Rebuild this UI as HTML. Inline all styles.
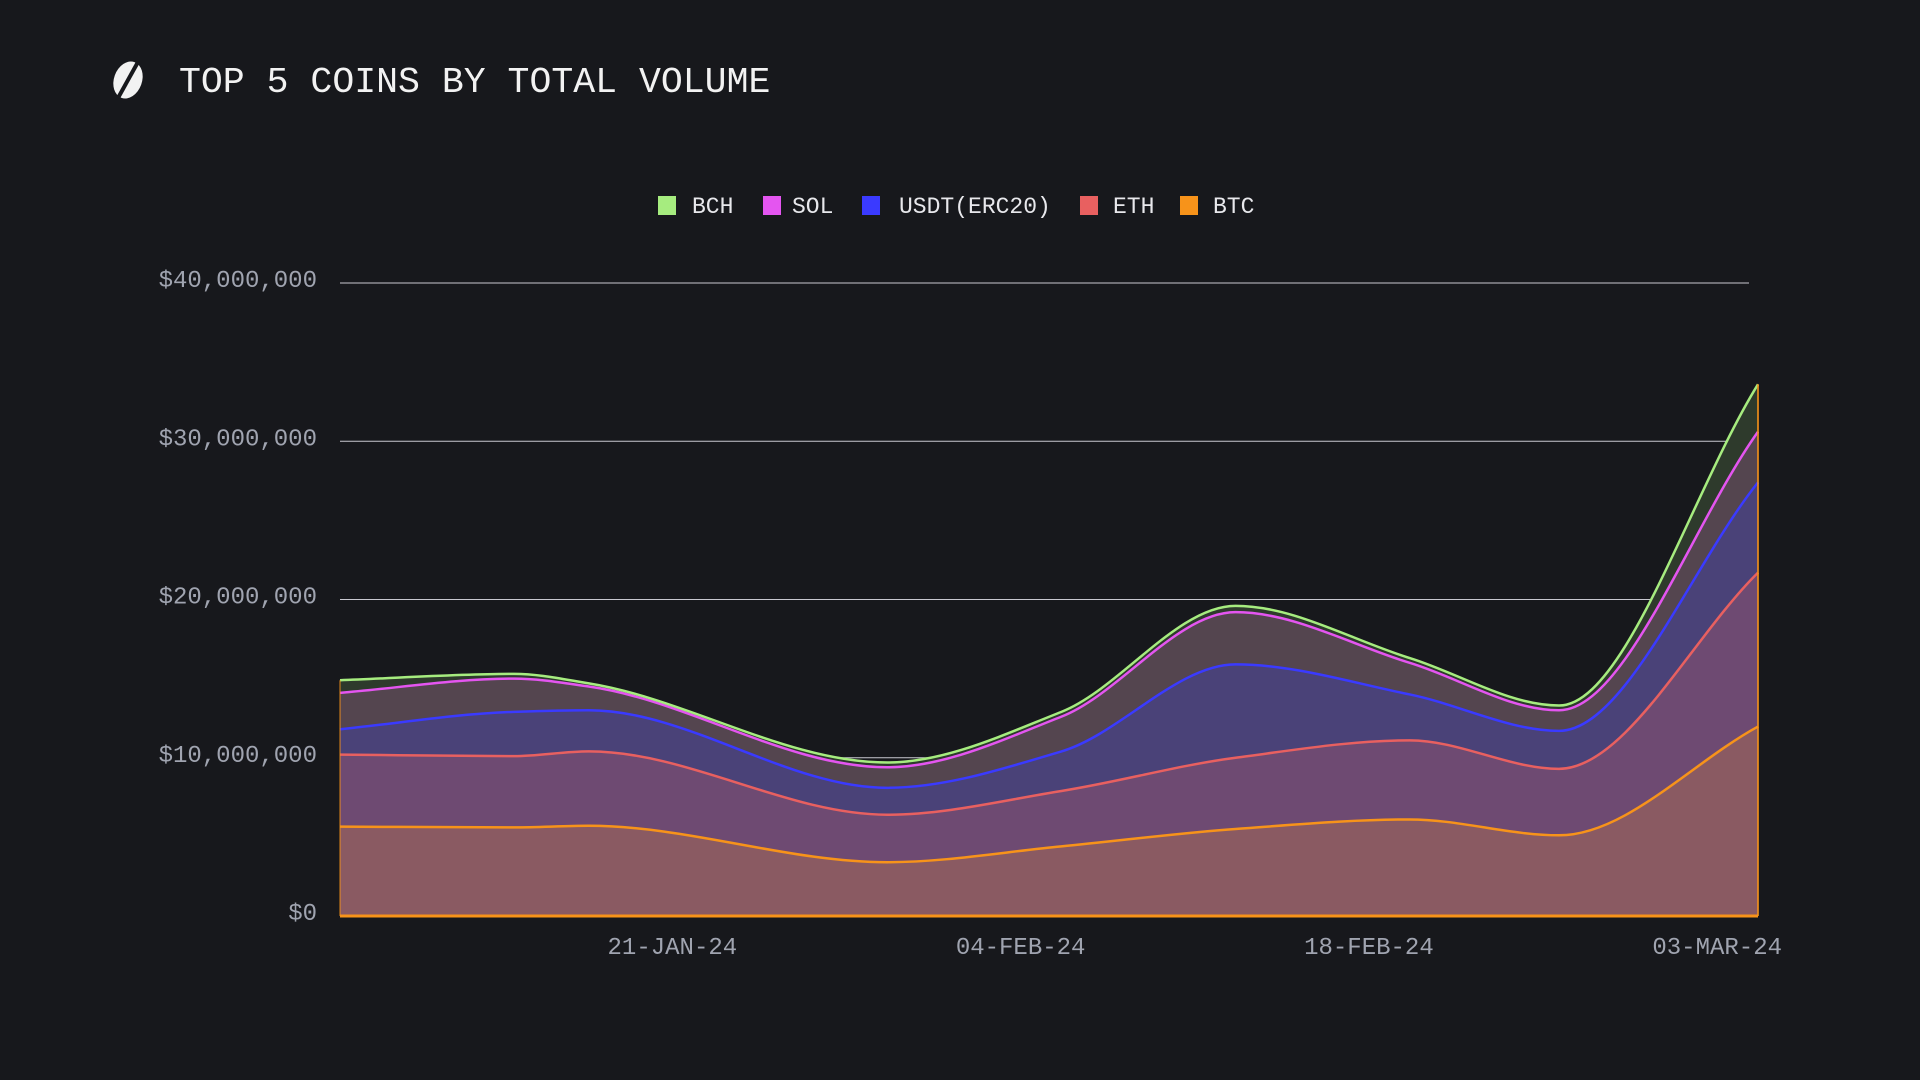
<!DOCTYPE html>
<html><head><meta charset="utf-8"><style>
html,body{margin:0;padding:0;background:#17181c;width:1920px;height:1080px;overflow:hidden}
svg{display:block}
text{font-family:"Liberation Mono",monospace}
</style></head><body>
<svg id="chart" width="1920" height="1080">
<rect width="1920" height="1080" fill="#17181c"/>
<g>
<ellipse cx="128" cy="80" rx="14" ry="19" transform="rotate(20 128 80)" fill="#f2f2f2"/>
<line x1="138" y1="62" x2="118" y2="98" stroke="#17181c" stroke-width="4"/>
</g>
<text x="179" y="92" font-size="36.5" fill="#f2f2f2">TOP 5 COINS BY TOTAL VOLUME</text>
<g id="legend"></g>
<g id="grid"></g>
<g id="areas"></g>
<g id="axes"></g>
</svg>
<script>
const days = [0, 7, 10, 22, 29, 36, 43, 49, 57];
const btc  = [5.65, 5.6, 5.7, 3.4, 4.4, 5.5, 6.1, 5.1, 11.97];
const eth  = [4.55, 4.5, 4.7, 3.0, 3.5, 4.5, 5.0, 4.2, 9.73];
const usdt = [1.6, 2.8, 2.6, 1.7, 2.5, 5.9, 2.9, 2.4, 5.7];
const sol  = [2.3, 2.1, 1.5, 1.3, 2.2, 3.3, 2.0, 1.3, 3.2];
const bch  = [0.8, 0.3, 0.2, 0.3, 0.3, 0.4, 0.3, 0.3, 3.0];
const yTicks = [0, 10, 20, 30, 40];
const yTickLabels = ["$0", "$10,000,000", "$20,000,000", "$30,000,000", "$40,000,000"];
const xTickDays = [13.4, 27.4, 41.4, 55.4];
const xTickLabels = ["21-JAN-24", "04-FEB-24", "18-FEB-24", "03-MAR-24"];
const seriesNames = ["BCH", "SOL", "USDT(ERC20)", "ETH", "BTC"];

const X0 = 340, X1 = 1758, Y0 = 916, PX_PER_M = 15.825;
const xs = d => X0 + (d - days[0]) / (days[days.length - 1] - days[0]) * (X1 - X0);
const ys = v => Y0 - v * PX_PER_M;
const NS = "http://www.w3.org/2000/svg";
function mk(tag, attrs, parent) {
  const e = document.createElementNS(NS, tag);
  for (const k in attrs) e.setAttribute(k, attrs[k]);
  parent.appendChild(e); return e;
}
function curve(pts) {
  const n = pts.length, dx = [], m = [], t = [];
  for (let i = 0; i < n - 1; i++) { dx[i] = pts[i+1][0] - pts[i][0]; m[i] = (pts[i+1][1] - pts[i][1]) / dx[i]; }
  t[0] = m[0]; t[n-1] = m[n-2];
  for (let i = 1; i < n - 1; i++) {
    if (m[i-1] * m[i] <= 0) t[i] = 0;
    else t[i] = 3 * (dx[i-1] + dx[i]) / ((2*dx[i] + dx[i-1]) / m[i-1] + (dx[i] + 2*dx[i-1]) / m[i]);
  }
  let d = "";
  for (let i = 0; i < n - 1; i++) {
    const h = dx[i] / 3;
    d += " C" + (pts[i][0] + h) + "," + (pts[i][1] + t[i]*h) + " " + (pts[i+1][0] - h) + "," + (pts[i+1][1] - t[i+1]*h) + " " + pts[i+1][0] + "," + pts[i+1][1];
  }
  return d;
}
const grid = document.getElementById("grid"), axes = document.getElementById("axes"), areas = document.getElementById("areas"), legend = document.getElementById("legend");
yTicks.forEach((v, i) => {
  if (v > 0) {
    const l = mk("line", {x1: X0, x2: 1749, y1: ys(v), y2: ys(v), stroke: "#c8c8d0", "stroke-width": 1}, grid);
    
    
  }
  const t = mk("text", {x: 317, y: ys(v) + 4, "text-anchor": "end", "font-size": 24, fill: "#a0a4b0"}, axes);
  t.textContent = yTickLabels[i];
  
  
});
xTickDays.forEach((d, i) => {
  const t = mk("text", {x: xs(d) - 1, y: 954, "text-anchor": "middle", "font-size": 24, fill: "#a0a4b0"}, axes);
  t.textContent = xTickLabels[i];
  
  
});
const layers = [btc, eth, usdt, sol, bch];
const fills = ["#8a5a62", "#6e4a72", "#4a4278", "#54454f", "#2e3a2c"];
const strokes = ["#f7931a", "#e86060", "#3a3aff", "#e455f0", "#a6ec7f"];
const names = ["btc", "eth", "usdt", "sol", "bch"];
const cum = [];
let prev = days.map(() => 0);
layers.forEach((arr, k) => {
  const top = arr.map((v, i) => prev[i] + v);
  cum.push({bottom: prev, top});
  prev = top;
});
cum.forEach((c, k) => {
  const topPts = days.map((d, i) => [xs(d), ys(c.top[i])]);
  const botPts = days.map((d, i) => [xs(d), ys(c.bottom[i])]).reverse();
  const dA = "M" + topPts[0].join(",") + curve(topPts) + " L" + botPts[0].join(",") + curve(botPts) + " Z";
  const a = mk("path", {d: dA, fill: fills[k]}, areas);
  
  
});
cum.forEach((c, k) => {
  const topPts = days.map((d, i) => [xs(d), ys(c.top[i])]);
  const l = mk("path", {d: "M" + topPts[0].join(",") + curve(topPts), fill: "none", stroke: strokes[k], "stroke-width": 2.5}, areas);
  
  
});
const base = mk("line", {x1: X0, x2: X1, y1: Y0, y2: Y0, stroke: "#f7931a", "stroke-width": 3}, areas);


const rEdge = mk("line", {x1: X1, x2: X1, y1: Y0, y2: ys(cum[4].top[days.length-1]), stroke: "#f7931a", "stroke-width": 2, opacity: 0.8}, areas);


const lEdge = mk("line", {x1: X0, x2: X0, y1: Y0, y2: ys(cum[4].top[0]), stroke: "#f7931a", "stroke-width": 1.5, opacity: 0.6}, areas);


const legX = [[658, 692], [763, 792], [862, 899], [1080, 1113], [1180, 1213]];
const legColors = ["#a6ec7f", "#e455f0", "#3a3aff", "#e86060", "#f7931a"];
seriesNames.forEach((n, i) => {
  const g = mk("g", {}, legend);
  
  
  mk("rect", {x: legX[i][0], y: 196, width: 18, height: 19, fill: legColors[i]}, g);
  const t = mk("text", {x: legX[i][1], y: 213, "font-size": 23, fill: "#e8e8ec"}, g);
  t.textContent = n;
});
</script>
</body></html>
